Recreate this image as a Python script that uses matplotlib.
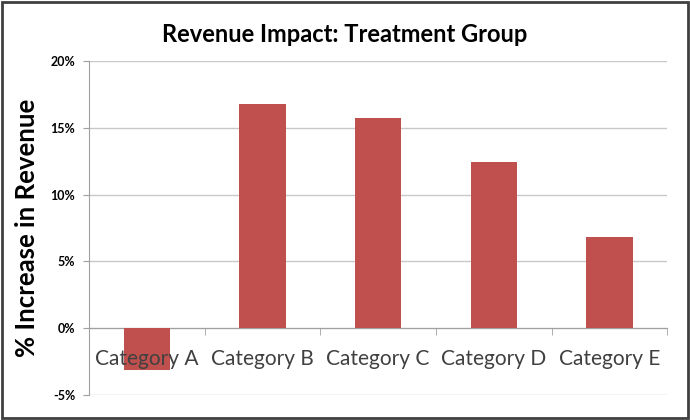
import matplotlib
matplotlib.use("Agg")
import matplotlib.pyplot as plt
from matplotlib.patches import Rectangle
from matplotlib.ticker import FuncFormatter

# data
categories = ["Category A", "Category B", "Category C", "Category D", "Category E"]
revenue_increase = [-0.031, 0.168, 0.157, 0.124, 0.068]
y_ticks = [-0.05, 0.0, 0.05, 0.10, 0.15, 0.20]

plt.rcParams["font.family"] = ["Lato", "DejaVu Sans"]

fig = plt.figure(figsize=(6.9, 4.2), dpi=100)
ax = fig.add_axes([0.129, 0.0595, 0.838, 0.7955])

x = list(range(len(categories)))
ax.bar(x, revenue_increase, width=0.4, color="#C0504D", zorder=3)

ax.set_xlim(-0.5, len(categories) - 0.5)
ax.set_ylim(-0.05, 0.20)
ax.set_yticks(y_ticks)
ax.yaxis.set_major_formatter(FuncFormatter(lambda v, _: f"{v*100:.0f}%"))
ax.yaxis.grid(True, color="#c8c8c8", linewidth=1.0)
ax.yaxis.set_zorder(0.5)
ax.tick_params(axis="y", length=4, color="#a0a0a0", labelsize=9, pad=6)
for lbl in ax.get_yticklabels():
    lbl.set_fontweight("bold")

# category axis drawn at zero, labels sit on top of the bars
ax.spines["bottom"].set_position(("data", 0))
ax.spines["bottom"].set_color("#a0a0a0")
ax.spines["left"].set_color("#a0a0a0")
ax.spines["top"].set_visible(False)
ax.spines["right"].set_visible(False)
ax.set_xticks(x)
ax.set_xticklabels(categories, fontsize=15, color="#404040")
ax.set_xticks([i + 0.5 for i in x], minor=True)
ax.tick_params(axis="x", which="major", length=0, pad=15)
ax.tick_params(axis="x", which="minor", length=5, color="#a0a0a0")
ax.xaxis.set_zorder(4)

ax.set_ylabel("% Increase in Revenue", fontsize=18.5, fontweight="bold", labelpad=8)
ax.yaxis.label.set_zorder(4)
fig.text(0.5, 0.917, "Revenue Impact: Treatment Group", ha="center", va="center",
         fontsize=17, fontweight="bold")

# outer frame
fig.patches.append(Rectangle((0.003, 0.005), 0.994, 0.99, transform=fig.transFigure,
                             fill=False, edgecolor="#404040", linewidth=2))

fig.savefig("out.png", dpi=100)
